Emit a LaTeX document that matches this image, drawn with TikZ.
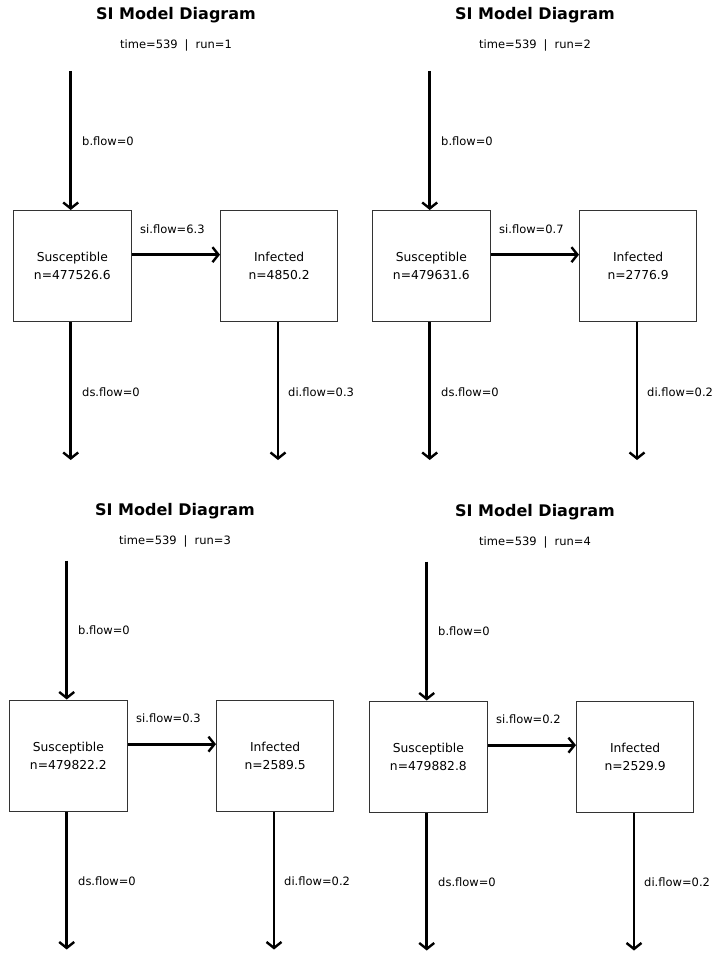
\documentclass[tikz,border=0pt]{standalone}
\usepackage{fontspec}
\setmainfont{DejaVu Sans}
\usetikzlibrary{arrows.meta}
\tikzset{
  comp/.style={draw=black!80, line width=1.3pt, minimum width=118pt, minimum height=111pt,
    inner sep=0pt, align=center, font=\fontsize{12.3}{18}\selectfont, anchor=north west},
  flow/.style={line width=2.8pt, -{Straight Barb[length=6pt,width=15pt,line width=2.4pt]}},
  lab/.style={font=\fontsize{11.5}{14}\selectfont, anchor=west, inner sep=0pt},
  ttl/.style={font=\bfseries\fontsize{16}{19}\selectfont, inner sep=0pt},
  sub/.style={font=\fontsize{11.5}{14}\selectfont, inner sep=0pt}
}
% #1 dx, #2 dy, #3 title x, #4 title y, #5 run, #6 S n, #7 I n, #8 si flow, #9 di flow
\newcommand\siPanel[9]{%
  \node[ttl] (t#5) at (#3,#4) {SI Model Diagram};
  \node[sub] (st#5) at (#3,#4+30) {time=539\hspace{7pt}|\hspace{7pt}run=#5};
  \begin{scope}[shift={(#1,#2)}]
    \coordinate (b#5) at (70.7,71);
    \coordinate (ds#5) at (70.7,460);
    \coordinate (di#5) at (278,460);
    \node[comp] (S#5) at (12.7,210) {Susceptible\\n=#6};
    \node[comp, minimum width=117pt] (I#5) at (220,210) {Infected\\n=#7};
    \draw[flow] (b#5) -- (b#5 |- S#5.north);
    \draw[flow] ([yshift=11.5pt]S#5.east) -- ([yshift=11.5pt]I#5.west);
    \draw[flow] (ds#5 |- S#5.south) -- (ds#5);
    \draw[flow] (di#5 |- I#5.south) -- (di#5);
    \node[lab] (lb#5) at (82,141) {b.flow=0};
    \node[lab] (lsi#5) at (140,229) {si.flow=#8};
    \node[lab] (lds#5) at (82,392) {ds.flow=0};
    \node[lab] (ldi#5) at (288,392) {di.flow=#9};
  \end{scope}
}
\begin{document}
\begin{tikzpicture}[x=1pt,y=-1pt]
  \fill[white] (0,0) rectangle (717,955);
  \useasboundingbox (0,0) rectangle (717,955);
  \siPanel{0}{0}{176}{15}{1}{477526.6}{4850.2}{6.3}{0.3}
  \siPanel{359}{0}{535}{15}{2}{479631.6}{2776.9}{0.7}{0.2}
  \siPanel{-4}{489.5}{175}{511}{3}{479822.2}{2589.5}{0.3}{0.2}
  \siPanel{356}{490.5}{535}{512}{4}{479882.8}{2529.9}{0.2}{0.2}
\end{tikzpicture}
\end{document}
